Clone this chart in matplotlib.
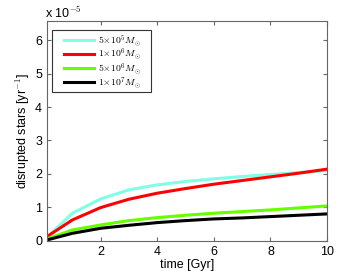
import matplotlib
matplotlib.use("Agg")
import matplotlib.pyplot as plt
from matplotlib.patches import Rectangle

t = [0.1, 1, 2, 3, 4, 5, 6, 7, 8, 9, 10]
s5e5 = [0.10, 0.82, 1.25, 1.52, 1.67, 1.77, 1.85, 1.92, 1.98, 2.04, 2.10]
s1e6 = [0.12, 0.62, 0.99, 1.24, 1.42, 1.56, 1.69, 1.80, 1.91, 2.02, 2.14]
s5e6 = [0.05, 0.32, 0.47, 0.60, 0.69, 0.76, 0.82, 0.87, 0.92, 0.98, 1.04]
s1e7 = [0.02, 0.22, 0.37, 0.46, 0.54, 0.60, 0.65, 0.68, 0.72, 0.76, 0.80]
labels = [r"$5{\times}10^5M_{\odot}$", r"$1{\times}10^6M_{\odot}$",
          r"$5{\times}10^6M_{\odot}$", r"$1{\times}10^7M_{\odot}$"]
colors = ["#7fffe6", "#ff0000", "#66ff00", "#000000"]
xticks = [2, 4, 6, 8, 10]
yticks = [0, 1, 2, 3, 4, 5, 6]

plt.rcParams['font.family'] = ['Liberation Sans', 'DejaVu Sans']
plt.rcParams['mathtext.fontset'] = 'cm'

fig = plt.figure(figsize=(3.61, 2.71), dpi=100)
ax = fig.add_axes([0.130, 0.112, 0.776, 0.810])
for y, c, l in zip([s5e5, s1e6, s5e6, s1e7], colors, labels):
    ax.plot(t, y, color=c, lw=2.2, label=l)
ax.set_xlim(0.1, 10)
ax.set_ylim(0, 6.57)
ax.set_xticks(xticks)
ax.set_yticks(yticks)
ax.tick_params(direction='in', labelsize=9, top=True, right=True, length=3, color='#666666')
for sp in ax.spines.values():
    sp.set_color('#666666')
ax.set_xlabel("time [Gyr]", fontsize=9, labelpad=1)
ax.set_ylabel(r"disrupted stars [yr$^{-1}$]", fontsize=9, labelpad=2)
fig.text(0.125, 0.935, r"x 10$^{-5}$", fontsize=9)

frame = Rectangle((0.018, 0.677), 0.353, 0.282, transform=ax.transAxes,
                  facecolor='white', edgecolor='#333333', lw=0.8, zorder=4)
ax.add_patch(frame)
leg = ax.legend(loc='upper left', fontsize=7, frameon=False,
                handlelength=3.1, handletextpad=0.4,
                borderpad=0, labelspacing=-0.15,
                bbox_to_anchor=(0.061, 0.945), borderaxespad=0)
leg.set_zorder(5)
fig.savefig("out.png", dpi=100)
